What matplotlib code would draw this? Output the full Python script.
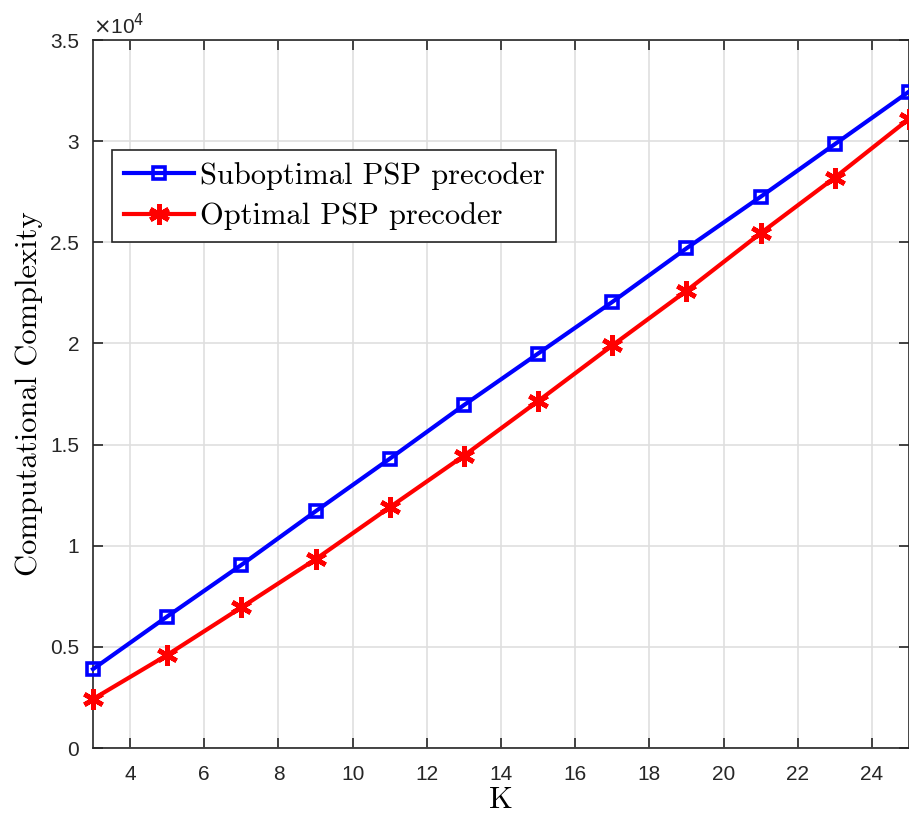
import numpy as np
import matplotlib as mpl
import matplotlib.pyplot as plt

plt.switch_backend("Agg")

K = [3, 5, 7, 9, 11, 13, 15, 17, 19, 21, 23, 25]
subopt = [3900, 6500, 9050, 11700, 14300, 16950, 19500, 22050, 24700, 27250, 29850, 32450]
opt = [2420, 4600, 6950, 9330, 11900, 14450, 17150, 19900, 22600, 25450, 28200, 31100]
xticks = list(range(4, 25, 2))
yticks = [0, 5000, 10000, 15000, 20000, 25000, 30000, 35000]
ytick_labels = ["0", "0.5", "1", "1.5", "2", "2.5", "3", "3.5"]

# MATLAB latex-ish look: Computer Modern for labels/legend, Helvetica-like ticks
serif = ["cmr10", "DejaVu Serif"]
sans = ["Liberation Sans", "DejaVu Sans"]

fig = plt.figure(figsize=(9.09, 8.16), dpi=100)
ax = fig.add_axes([93 / 909, 68 / 816, 1 - 93 / 909, 708 / 816])

ax.plot(K, subopt, color="#0000ff", lw=3.0, marker="s", ms=9, mfc="none",
        mew=2.6, label="Suboptimal PSP precoder", clip_on=False, zorder=3)
ax.plot(K, opt, color="#ff0000", lw=3.0, marker=(6, 2, 0), ms=15,
        mew=3.4, label="Optimal PSP precoder", clip_on=False, zorder=3)

ax.set_xlim(3, 25)
ax.set_ylim(0, 35000)
ax.set_xticks(xticks)
ax.set_yticks(yticks)
ax.set_yticklabels(ytick_labels)
for lab in ax.get_xticklabels() + ax.get_yticklabels():
    lab.set_family(sans)
    lab.set_fontsize(15)
    lab.set_color("#262626")

ax.grid(True, color="#dfdfdf", lw=1.2)
ax.set_axisbelow(True)
ax.tick_params(direction="in", length=7, width=1.2, top=True, right=True,
               colors="#262626")
ax.tick_params(axis="x", pad=12)
ax.tick_params(axis="y", pad=10)
for s in ax.spines.values():
    s.set_color("#262626")
    s.set_linewidth(1.2)

ax.set_xlabel("K", family=serif, fontsize=22, labelpad=2)
ax.set_ylabel("Computational Complexity", family=serif, fontsize=22, labelpad=5)

ax.text(0.0, 1.003, r"$\times$10$^{4}$", transform=ax.transAxes, family=sans,
        fontsize=15, color="#262626", va="bottom", ha="left")

leg = ax.legend(loc="upper left", bbox_to_anchor=(19 / 816, 598 / 708),
                prop={"family": serif, "size": 22},
                fancybox=False, edgecolor="#262626", framealpha=1.0,
                handlelength=2.3, handletextpad=0.2, borderpad=0.38, labelspacing=0.42,
                borderaxespad=0.0)
leg.get_frame().set_linewidth(1.2)

fig.savefig("out.png", dpi=100)
